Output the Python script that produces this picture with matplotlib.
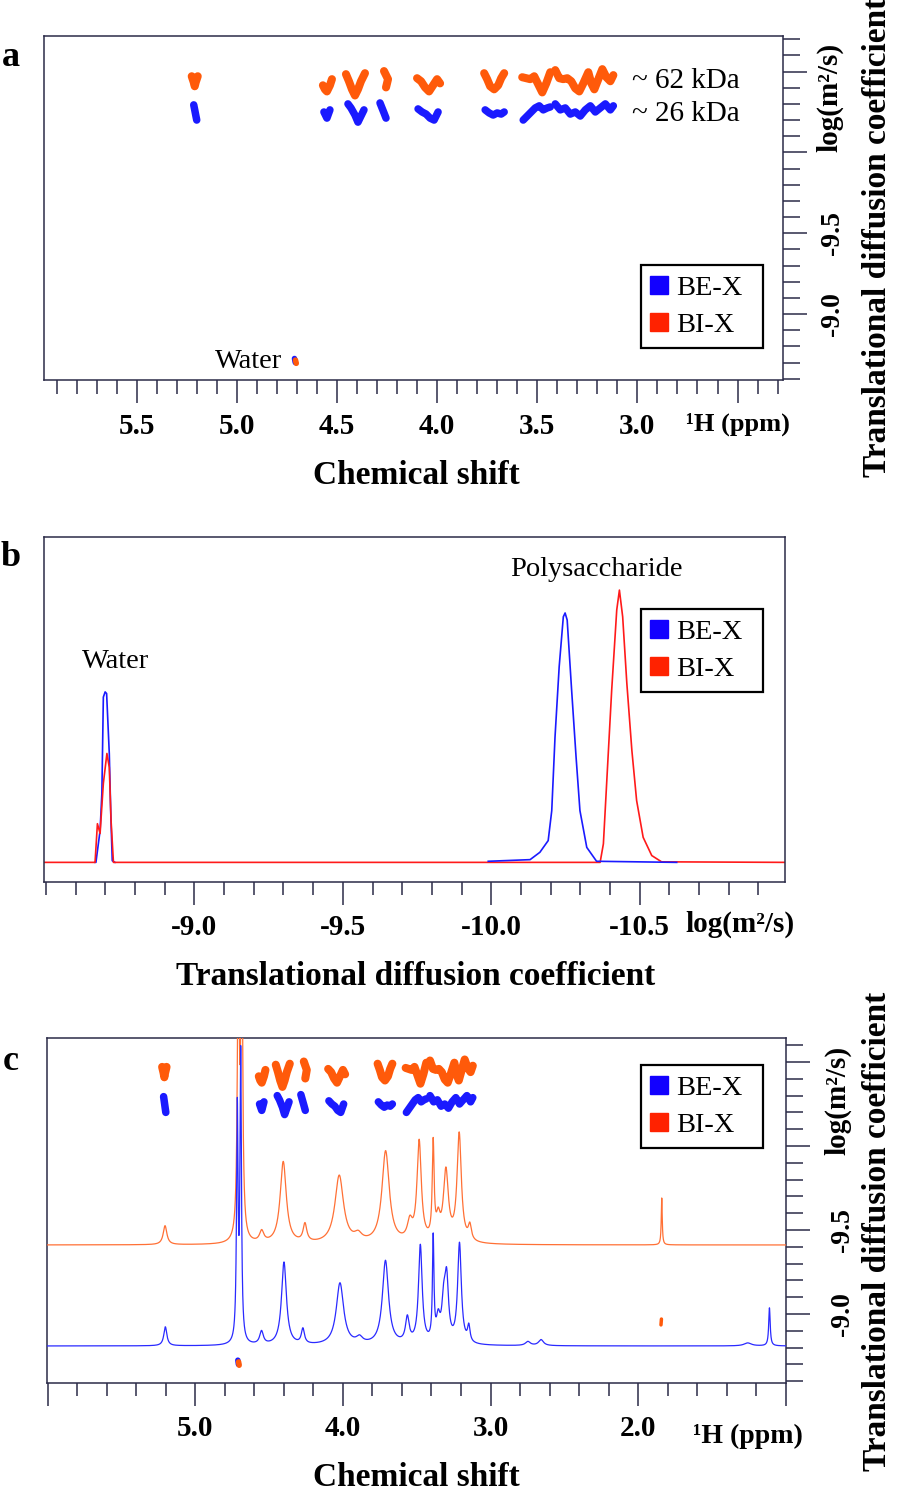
import matplotlib
matplotlib.use("Agg")
import matplotlib.pyplot as plt
import matplotlib.ticker as ticker
from matplotlib.lines import Line2D
import numpy as np

W, H = 898, 1499

SERIES = ["BE-X", "BI-X"]

# --- DOSY cross peaks (panels a and c): ppm positions and logD offsets from row centre
BLOB_PPM_BI = [
    [5.225, 5.215, 5.21, 5.205, 5.195],
    [4.57, 4.56, 4.55, 4.535, 4.525],
    [4.455, 4.44, 4.425, 4.41, 4.395, 4.38, 4.36],
    [4.265, 4.255, 4.245, 4.25, 4.255],
    [4.10, 4.08, 4.06, 4.04, 4.02, 4.0, 3.985],
    [3.765, 3.75, 3.735, 3.715, 3.695, 3.68, 3.665],
    [3.575, 3.555, 3.535, 3.515, 3.495, 3.475, 3.455, 3.435],
    [3.41, 3.39, 3.37, 3.35, 3.33, 3.31, 3.29, 3.27, 3.245, 3.23, 3.215, 3.195, 3.175, 3.155, 3.135, 3.12],
]
BLOB_OFF_BI = [
    [-0.031, 0.006, 0.031, 0.006, -0.031],
    [0.025, 0.05, 0.063, 0.025, -0.013],
    [-0.044, 0.0, 0.05, 0.088, 0.05, 0.0, -0.05],
    [-0.063, -0.038, -0.013, 0.013, 0.038],
    [-0.019, 0.0, 0.038, 0.063, 0.025, -0.013, 0.013],
    [-0.05, -0.013, 0.031, 0.05, 0.025, -0.019, -0.05],
    [-0.025, -0.019, -0.013, -0.031, 0.019, 0.069, 0.013, -0.056],
    [-0.069, -0.019, -0.013, -0.019, 0.0, 0.044, 0.063, 0.013, -0.056, 0.013, 0.05, -0.013, -0.075, -0.025, 0.0, -0.038],
]
BLOB_PPM_BE = [
    [5.215, 5.21, 5.205, 5.20],
    [4.565, 4.55, 4.535],
    [4.445, 4.43, 4.41, 4.395, 4.38, 4.365],
    [4.285, 4.275, 4.265, 4.255],
    [4.095, 4.075, 4.055, 4.035, 4.015, 3.995],
    [3.76, 3.74, 3.72, 3.70, 3.68, 3.665],
    [3.57, 3.55, 3.53, 3.51, 3.49, 3.47, 3.45, 3.435],
    [3.41, 3.385, 3.36, 3.335, 3.31, 3.285, 3.26, 3.235, 3.21, 3.185, 3.16, 3.135, 3.12],
]
BLOB_OFF_BE = [
    [-0.044, -0.013, 0.019, 0.05],
    [0.0, 0.038, -0.013],
    [-0.05, -0.025, 0.019, 0.063, 0.025, -0.013],
    [-0.056, -0.025, 0.006, 0.038],
    [-0.019, 0.0, 0.013, 0.038, 0.05, 0.0],
    [-0.013, 0.006, 0.019, 0.006, 0.013, 0.0],
    [0.05, 0.025, 0.0, -0.025, -0.038, -0.013, -0.025, -0.031],
    [-0.05, -0.013, -0.025, 0.013, 0.0, 0.025, -0.013, -0.038, 0.0, -0.025, -0.05, -0.013, -0.038],
]
LOGD_ROW_BI = -10.44   # ~ 62 kDa
LOGD_ROW_BE = -10.25   # ~ 26 kDa

WATER_PPM_BE = [4.712, 4.708]
WATER_LOGD_BE = [-8.725, -8.70]
WATER_PPM_BI = [4.707, 4.703]
WATER_LOGD_BI = [-8.715, -8.695]
EXTRA_PPM_BI = [1.845, 1.842]
EXTRA_LOGD_BI = [-8.935, -8.97]

# --- panel b: diffusion distributions (logD, normalised intensity)
BE_WATER_D = [-8.665, -8.668, -8.682, -8.688, -8.693, -8.699, -8.704, -8.713, -8.718, -8.723, -8.732]
BE_WATER_I = [0, 0, 0.117, 0.253, 0.607, 0.626, 0.62, 0.40, 0.179, 0.006, 0]
BE_POLY_D = [-9.990, -10.131, -10.164, -10.192, -10.204, -10.215, -10.229, -10.243, -10.249,
             -10.256, -10.271, -10.286, -10.299, -10.322, -10.355, -10.625]
BE_POLY_I = [0.004, 0.010, 0.037, 0.080, 0.19, 0.46, 0.718, 0.902, 0.916,
             0.89, 0.632, 0.386, 0.19, 0.055, 0.004, 0.0]
BI_D = [-8.49, -8.665, -8.673, -8.682, -8.693, -8.705, -8.713, -8.719, -8.727,
        -10.367, -10.378, -10.389, -10.406, -10.423, -10.432, -10.443, -10.457, -10.474,
        -10.490, -10.512, -10.541, -10.574, -10.99]
BI_I = [0, 0, 0.142, 0.106, 0.290, 0.400, 0.349, 0.153, 0,
        0, 0.068, 0.29, 0.633, 0.927, 1.0, 0.902, 0.658, 0.411,
        0.227, 0.092, 0.025, 0.002, 0]

# --- panel c: 1H spectra peak tables (ppm, height, width)
BE_PEAK_PPM = [5.204, 4.717, 4.694, 4.553, 4.401, 4.273, 4.022, 3.890, 3.714, 3.566, 3.478,
               3.391, 3.357, 3.320, 3.300, 3.213, 3.150, 2.750, 2.661, 1.262, 1.115]
BE_PEAK_H = [19, 230, 285, 13, 83, 15, 62, 6, 84, 25, 98, 102, 22, 35, 60, 100, 16, 4, 6, 3, 38]
BE_PEAK_W = [0.025, 0.012, 0.012, 0.03, 0.04, 0.025, 0.06, 0.05, 0.05, 0.03, 0.03,
             0.012, 0.03, 0.03, 0.03, 0.03, 0.02, 0.04, 0.04, 0.06, 0.012]
BI_PEAK_PPM = [5.206, 4.710, 4.687, 4.552, 4.406, 4.259, 4.027, 3.899, 3.713, 3.549, 3.486,
               3.391, 3.357, 3.305, 3.215, 3.143, 1.844]
BI_PEAK_H = [19, 300, 300, 11, 82, 18, 68, 7, 92, 18, 100, 95, 20, 70, 108, 15, 47]
BI_PEAK_W = [0.03, 0.015, 0.015, 0.035, 0.05, 0.03, 0.07, 0.06, 0.06, 0.04, 0.035,
             0.015, 0.03, 0.04, 0.035, 0.025, 0.008]
BI_OFFSET = 101

BLUE = "#1a1aff"
ORANGE = "#ff5a0a"
RED = "#ff1a1a"
SPINE = "#2b2b48"
LEG_COLORS = ["#1200ff", "#ff2200"]

plt.rcParams["font.family"] = ["Liberation Serif", "DejaVu Serif"]


def fx(x):
    return x / W


def fy(y):
    return 1 - y / H


def style(ax):
    for s in ax.spines.values():
        s.set_color(SPINE)
        s.set_linewidth(1.1)
    ax.tick_params(which="both", colors=SPINE, labelcolor="black", width=1.1, direction="out")


def bold_labels(labels, size=21):
    for lbl in labels:
        lbl.set_fontweight("bold")
        lbl.set_fontsize(size)


def add_legend(ax, x0, top, width):
    # fixed-width box, entries packed to the left like the original
    handles = [Line2D([], [], ls="", marker="s", ms=12.5, mfc=c, mec=c) for c in LEG_COLORS]
    leg = ax.legend(handles, SERIES, loc="upper left", bbox_to_anchor=(x0, top - 0.3, width, 0.3),
                    mode="expand", borderaxespad=0, fancybox=False, edgecolor="black",
                    framealpha=1, fontsize=20.5, handlelength=0.55, handletextpad=0.35,
                    borderpad=0.35, labelspacing=0.4)
    leg.get_frame().set_linewidth(1.6)


def draw_blobs(ax):
    for p, o in zip(BLOB_PPM_BI, BLOB_OFF_BI):
        ax.plot(p, LOGD_ROW_BI + np.array(o), color=ORANGE, lw=5.8,
                solid_capstyle="round", solid_joinstyle="round")
    for p, o in zip(BLOB_PPM_BE, BLOB_OFF_BE):
        ax.plot(p, LOGD_ROW_BE + np.array(o), color=BLUE, lw=5.4,
                solid_capstyle="round", solid_joinstyle="round")
    ax.plot(WATER_PPM_BE, WATER_LOGD_BE, color=BLUE, lw=4, solid_capstyle="round")
    ax.plot(WATER_PPM_BI, WATER_LOGD_BI, color=ORANGE, lw=4, solid_capstyle="round")


def right_axis(ax, pad):
    ax.yaxis.tick_right()
    ax.set_yticks([-10.5, -10.0, -9.5, -9.0], ["", "", "-9.5", "-9.0"])
    ax.yaxis.set_minor_locator(ticker.MultipleLocator(0.1))
    ax.tick_params(axis="y", which="major", length=17, pad=pad)
    ax.tick_params(axis="y", which="minor", length=12)
    for lbl in ax.get_yticklabels():
        lbl.set_rotation(90)
        lbl.set_va("center")
        lbl.set_fontweight("bold")
        lbl.set_fontsize(20)


fig = plt.figure(figsize=(W / 100, H / 100), dpi=100)

# ---------------- panel a
ax_a = fig.add_axes([fx(44.3), fy(380), (783 - 44.3) / W, 344 / H])
style(ax_a)
draw_blobs(ax_a)
ax_a.set_xlim(5.961, 2.273)
ax_a.set_ylim(-8.592, -10.72)
ax_a.set_xticks([5.5, 5.0, 4.5, 4.0, 3.5, 3.0, 2.5],
                ["5.5", "5.0", "4.5", "4.0", "3.5", "3.0", "¹H (ppm)"])
ax_a.xaxis.set_minor_locator(ticker.MultipleLocator(0.1))
ax_a.tick_params(axis="x", which="major", length=16.5, pad=7)
ax_a.tick_params(axis="x", which="minor", length=10)
bold_labels(ax_a.get_xticklabels())
ax_a.get_xticklabels()[-1].set_fontsize(19)
right_axis(ax_a, 10)
add_legend(ax_a, 0.8078, 0.334, 0.1652)
fig.text(fx(632), fy(81), "~ 62 kDa", fontsize=21, ha="left", va="center")
fig.text(fx(632), fy(114), "~ 26 kDa", fontsize=21, ha="left", va="center")
fig.text(fx(249), fy(361), "Water", fontsize=20.5, ha="center", va="center")
fig.text(fx(830), fy(97), "log(m²/s)", fontsize=21, fontweight="bold",
         rotation=90, ha="center", va="center")
fig.text(fx(416), fy(475), "Chemical shift", fontsize=24, fontweight="bold",
         ha="center", va="center")
fig.text(fx(878), fy(237), "Translational diffusion coefficient", fontsize=24,
         fontweight="bold", rotation=90, ha="center", va="center")
fig.text(fx(11), fy(57), "a", fontsize=26, fontweight="bold", ha="center", va="center")

# ---------------- panel b
ax_b = fig.add_axes([fx(44), fy(881.7), 741 / W, 344.7 / H])
style(ax_b)
ax_b.plot(BE_WATER_D, BE_WATER_I, color=BLUE, lw=1.2)
ax_b.plot(BI_D, BI_I, color=RED, lw=1.2)
ax_b.plot(BE_POLY_D, BE_POLY_I, color=BLUE, lw=1.2)
ax_b.set_xlim(-8.493, -10.99)
ax_b.set_ylim(-0.071, 1.195)
ax_b.set_yticks([])
ax_b.set_xticks([-9.0, -9.5, -10.0, -10.5], ["-9.0", "-9.5", "-10.0", "-10.5"])
ax_b.xaxis.set_minor_locator(ticker.MultipleLocator(0.1))
ax_b.tick_params(axis="x", which="major", length=16.5, pad=7)
ax_b.tick_params(axis="x", which="minor", length=9.5)
bold_labels(ax_b.get_xticklabels())
add_legend(ax_b, 0.8057, 0.791, 0.1646)
fig.text(fx(740), fy(924), "log(m²/s)", fontsize=21, fontweight="bold", ha="center", va="center")
fig.text(fx(116), fy(662), "Water", fontsize=20.5, ha="center", va="center")
fig.text(fx(596), fy(570), "Polysaccharide", fontsize=20.5, ha="center", va="center")
fig.text(fx(416), fy(976), "Translational diffusion coefficient", fontsize=24,
         fontweight="bold", ha="center", va="center")
fig.text(fx(11), fy(557), "b", fontsize=26, fontweight="bold", ha="center", va="center")

# ---------------- panel c
ax_c = fig.add_axes([fx(47), fy(1382.7), 738.7 / W, 344.7 / H])
style(ax_c)
draw_blobs(ax_c)
ax_c.plot(EXTRA_PPM_BI, EXTRA_LOGD_BI, color=ORANGE, lw=2.5, solid_capstyle="round")
ax_c.set_xlim(6.005, 1.005)
ax_c.set_ylim(-8.591, -10.643)
ax_c.set_xticks([6.0, 5.0, 4.0, 3.0, 2.0, 1.0], ["", "5.0", "4.0", "3.0", "2.0", ""])
ax_c.xaxis.set_minor_locator(ticker.MultipleLocator(0.2))
ax_c.tick_params(axis="x", which="major", length=16.5, pad=7)
ax_c.tick_params(axis="x", which="minor", length=9)
bold_labels(ax_c.get_xticklabels())
right_axis(ax_c, 15)

ppm_grid = np.linspace(6.005, 1.005, 6001)


def spectrum(centers, heights, widths):
    y = np.zeros_like(ppm_grid)
    for c, h, w in zip(centers, heights, widths):
        y += h / (1 + ((ppm_grid - c) / (w / 2)) ** 2)
    return y


sax = ax_c.inset_axes([0, 0, 1, 1])
sax.set_xlim(6.005, 1.005)
sax.set_ylim(-36.7, 308)
sax.axis("off")
sax.patch.set_alpha(0)
sax.plot(ppm_grid, BI_OFFSET + spectrum(BI_PEAK_PPM, BI_PEAK_H, BI_PEAK_W), color="#ff7035", lw=0.9)
sax.plot(ppm_grid, spectrum(BE_PEAK_PPM, BE_PEAK_H, BE_PEAK_W), color="#2a2aff", lw=0.9)
add_legend(ax_c, 0.8041, 0.922, 0.1652)
fig.text(fx(838), fy(1100), "log(m²/s)", fontsize=21, fontweight="bold",
         rotation=90, ha="center", va="center")
fig.text(fx(748), fy(1436), "¹H (ppm)", fontsize=20, fontweight="bold", ha="center", va="center")
fig.text(fx(416), fy(1478), "Chemical shift", fontsize=24, fontweight="bold",
         ha="center", va="center")
fig.text(fx(878), fy(1231), "Translational diffusion coefficient", fontsize=24,
         fontweight="bold", rotation=90, ha="center", va="center")
fig.text(fx(11), fy(1062), "c", fontsize=26, fontweight="bold", ha="center", va="center")

fig.savefig("out.png", dpi=100)
